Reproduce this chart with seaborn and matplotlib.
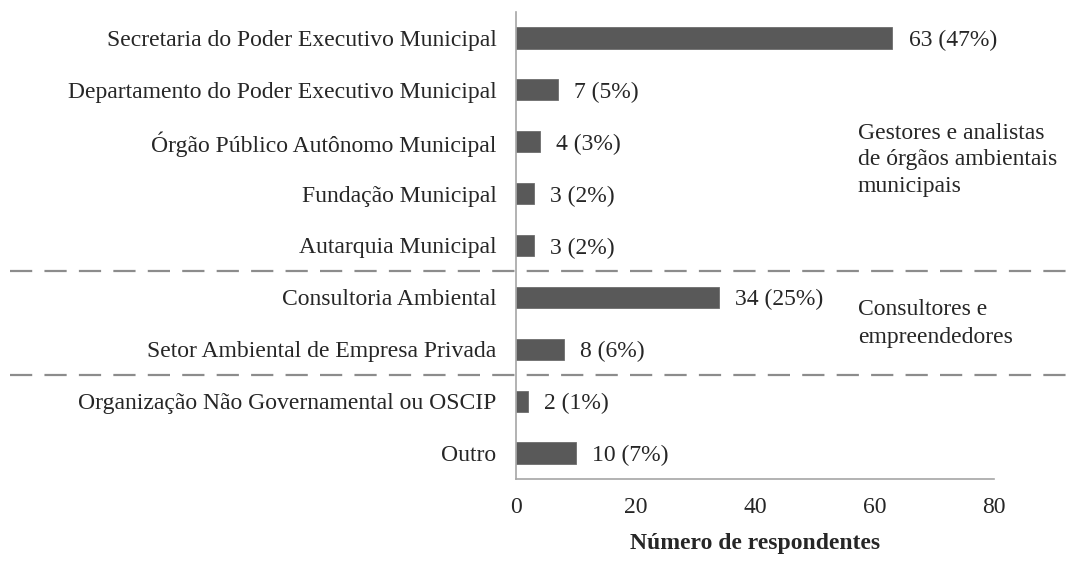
import numpy as np
import pandas as pd
import seaborn as sns
import matplotlib.pyplot as plt
import matplotlib.transforms as mtransforms
from matplotlib.lines import Line2D

categorias = ["Secretaria do Poder Executivo Municipal",
              "Departamento do Poder Executivo Municipal",
              "Órgão Público Autônomo Municipal",
              "Fundação Municipal",
              "Autarquia Municipal",
              "Consultoria Ambiental",
              "Setor Ambiental de Empresa Privada",
              "Organização Não Governamental ou OSCIP",
              "Outro"]
respondentes = [63, 7, 4, 3, 3, 34, 8, 2, 10]
percentuais = [47, 5, 3, 2, 2, 25, 6, 1, 7]
grupos = ["Gestores e analistas\nde órgãos ambientais\nmunicipais",
          "Consultores e\nempreendedores"]

sns.set_style("white")
plt.rcParams['font.family'] = ['Liberation Serif', 'DejaVu Serif']
fs = 17

df = pd.DataFrame({"categoria": categorias, "n": respondentes, "pct": percentuais})

fig = plt.figure(figsize=(10.76, 5.64), dpi=100)
ax = fig.add_axes([516 / 1076, 1 - 479 / 564, (994 - 516) / 1076, (479 - 12) / 564])

sns.barplot(data=df, y="categoria", x="n", orient="h", color="#595959",
            saturation=1, width=0.41, linewidth=0.6, edgecolor="#6e6e6e", ax=ax)

ax.set_xlim(0, 80)
ax.set_xticks(np.arange(0, 81, 20))
ax.set_ylim(len(categorias) - 0.5, -0.5)

spine_c = "#a6a6a6"
for s in ["top", "right"]:
    ax.spines[s].set_visible(False)
for s in ["left", "bottom"]:
    ax.spines[s].set_color(spine_c)
    ax.spines[s].set_linewidth(1.2)

# ticks on y sit between categories
ax.set_yticks(np.arange(len(categorias)))
ax.set_yticks(np.arange(-0.5, len(categorias), 1), minor=True)
ax.tick_params(axis="y", which="major", length=0, labelsize=fs, pad=14)
ax.tick_params(axis="y", which="minor", length=5, color=spine_c, width=1.2, direction="out")
ax.tick_params(axis="x", length=5, color=spine_c, width=1.2, direction="out", labelsize=fs, pad=8)
ax.set_ylabel("")
ax.set_xlabel("Número de respondentes", fontsize=fs, fontweight="bold", labelpad=11)

for i, (n, p) in enumerate(zip(respondentes, percentuais)):
    ax.text(n + 2.7, i, f"{n} ({p}%)", va="center_baseline", ha="left", fontsize=fs)

ax.text(57.2, 2.35, grupos[0], va="center", ha="left", fontsize=fs, linespacing=1.35)
ax.text(57.2, 5.5, grupos[1], va="center", ha="left", fontsize=fs, linespacing=1.4)

# dashed separators across the whole figure
trans = mtransforms.blended_transform_factory(fig.transFigure, ax.transData)
for yv in [4.5, 6.5]:
    fig.add_artist(Line2D([10 / 1076, 1.0], [yv, yv], transform=trans, color="#8c8c8c",
                          linewidth=1.6, linestyle=(0, (10, 5.5))))

fig.savefig("out.png", dpi=100)
